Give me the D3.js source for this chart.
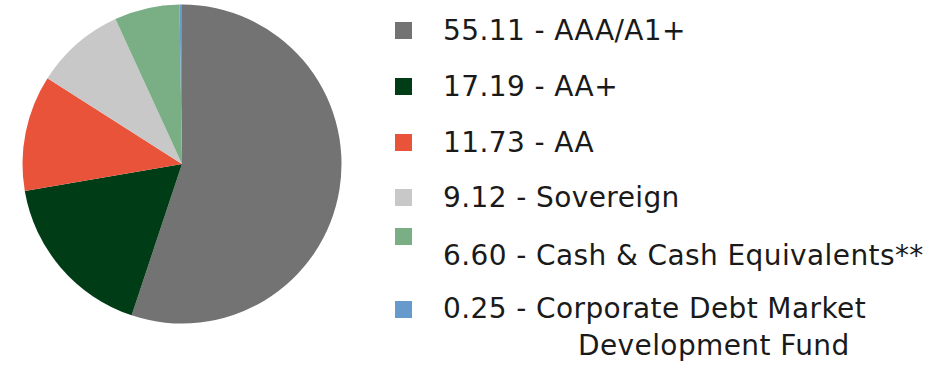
<!DOCTYPE html>
<html>
<head>
<meta charset="utf-8">
<script src="https://cdn.jsdelivr.net/npm/d3@7"></script>
<style>
  body { margin: 0; background: #fff; }
  svg text { font-family: "DejaVu Sans", sans-serif; fill: #1a1a1a; letter-spacing: 0.4px; }
</style>
</head>
<body>
<svg width="928" height="371"></svg>
<script>
// rating split, in percent
var values = [55.11, 17.19, 11.73, 9.12, 6.60, 0.25];
var ratings = ["AAA/A1+", "AA+", "AA", "Sovereign", "Cash & Cash Equivalents**", "Corporate Debt Market|Development Fund"];
var colors = ["#737373", "#003d17", "#e8533a", "#c8c8c8", "#7aae84", "#6699cc"];

var svg = d3.select("svg");

var pie = d3.pie().sort(null).value(function(d){ return d; });
var arc = d3.arc().innerRadius(0).outerRadius(159.5);

svg.append("g")
    .attr("transform", "translate(182,164)")
  .selectAll("path")
    .data(pie(values))
  .enter().append("path")
    .attr("d", arc)
    .attr("fill", function(d, i){ return colors[i]; });

// legend rows don't sit on an even grid in the original
var rowY = [30, 86, 142, 197, 236, 309];
var y = d3.scaleOrdinal().domain(d3.range(values.length)).range(rowY);

var legend = svg.append("g");
var row = legend.selectAll("g")
    .data(values)
  .enter().append("g")
    .attr("transform", function(d, i){ return "translate(395," + y(i) + ")"; });

row.append("rect")
    .attr("x", 0).attr("y", -8)
    .attr("width", 17).attr("height", 17)
    .attr("fill", function(d, i){ return colors[i]; });

row.append("text")
    .attr("x", 48)
    .attr("y", function(d, i){ return i == 4 ? 29 : (i == 5 ? 9 : 10); })
    .attr("font-size", "28px")
    .each(function(d, i){
      var parts = ratings[i].split("|");
      var t = d3.select(this);
      t.append("tspan").text(d3.format(".2f")(d) + " - " + parts[0]);
      if (parts[1]) {
        t.append("tspan").attr("x", 183).attr("dy", 37).text(parts[1]);
      }
    });
</script>
</body>
</html>
